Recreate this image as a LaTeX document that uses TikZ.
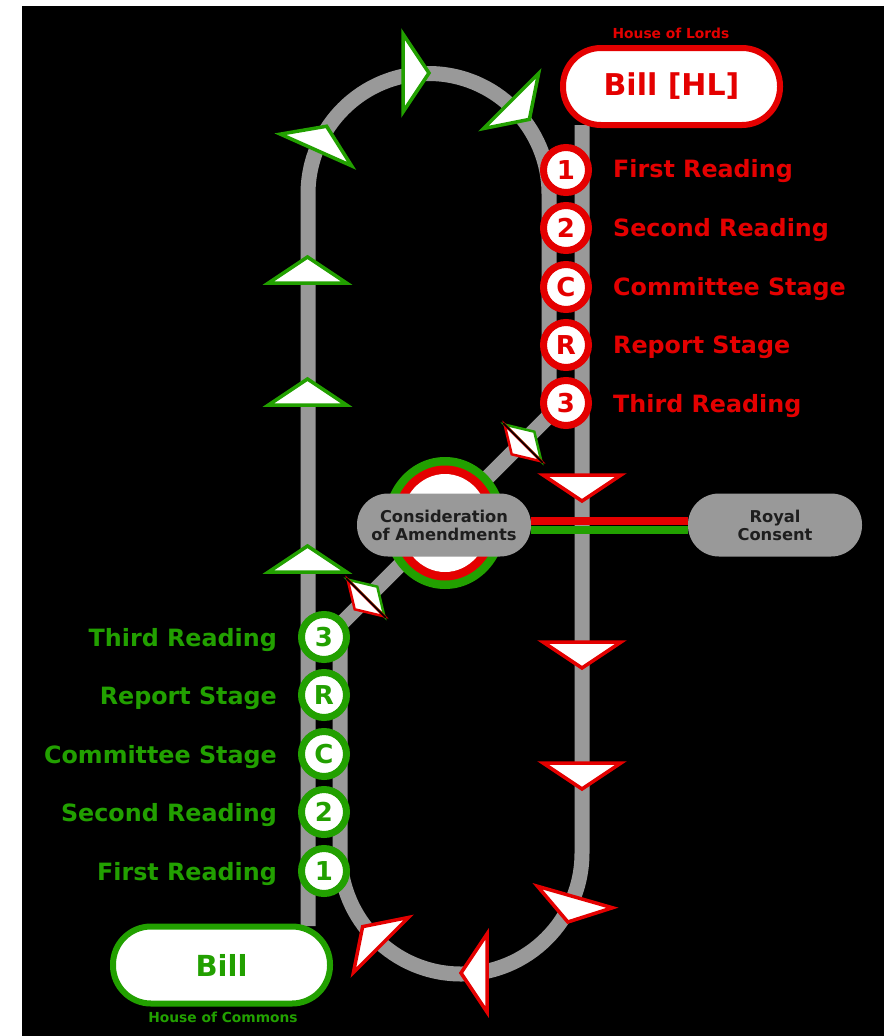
\documentclass[tikz,border=0pt]{standalone}
\usepackage{fontspec}
\setmainfont{DejaVu Sans}
\definecolor{trk}{RGB}{153,153,153}
\definecolor{rd}{RGB}{228,0,0}
\definecolor{gn}{RGB}{34,160,0}
\definecolor{tx}{RGB}{30,30,30}
\newcommand{\fs}[1]{\fontsize{#1}{#1}\selectfont}
\newcommand{\arrtri}[4]{\begin{scope}[shift={(#1,#2)},rotate=#3]\draw[arrhd,draw=#4] (0,-39) -- (26,0) -- (0,39) -- cycle;\end{scope}}
\newcommand{\splitmk}[2]{\begin{scope}[shift={(#1,#2)},rotate=45]
 \draw[arrhd,draw=gn,line width=2.5pt] (0,-26) -- (16,0) -- (0,26) -- cycle;
 \draw[arrhd,draw=rd,line width=2.5pt] (0,-26) -- (-16,0) -- (0,26) -- cycle;
 \draw[black,line width=1.5pt] (0,-28) -- (0,28);\end{scope}}
\begin{document}
\begin{tikzpicture}[x=1pt,y=-1pt,
  track/.style={draw=trk,line width=15pt,line join=round},
  arrhd/.style={fill=white,line width=3.5pt,line join=miter},
  stn/.style={circle,minimum size=45pt,inner sep=0pt,line width=7pt,fill=white,font=\bfseries\fs{26}},
  lab/.style={font=\bfseries\fs{23.8},inner sep=0pt},
  billbox/.style={line width=6pt,fill=white,rounded corners=38pt,minimum width=217pt,minimum height=77pt,inner sep=0pt},
  grybox/.style={fill=trk,rounded corners=31pt,minimum width=174pt,minimum height=63pt,inner sep=0pt,align=center,font=\bfseries\fontsize{16.3}{18}\selectfont,text=tx},
  small/.style={font=\bfseries\fs{13.8},inner sep=0pt}]
\useasboundingbox (0,0) rectangle (884,1036);
\fill[white] (0,0) rectangle (884,1036);
\fill[black] (22,6) rectangle (884,1036);
% track
\coordinate (p0) at (308,926);
\coordinate (p1) at (308,194);
\coordinate (p2) at (549,416);
\coordinate (p3) at (340,625);
\coordinate (p4) at (340,853);
\coordinate (p5) at (582,125);
\draw[track] (p0) -- (p1) arc[start angle=180,end angle=360,radius=120.5] -- (p2) -- (p3) -- (p4) arc[start angle=180,end angle=0,radius=121] -- (p5);
% consideration circle
\fill[gn] (445,523) ellipse[x radius=61,y radius=66];
\fill[rd] (445,523) ellipse[x radius=52.5,y radius=57.5];
\fill[white] (445,523) ellipse[x radius=44,y radius=49];
% boxes
\node[grybox] (cons) at (444,525) {Consideration\\of Amendments};
\node[grybox] (royal) at (775,525) {Royal\\Consent};
\coordinate (ry) at (0,521);
\coordinate (gy) at (0,530);
\draw[rd,line width=7.5pt] (cons.east |- ry) -- (royal.west |- ry);
\draw[gn,line width=8pt] (cons.east |- gy) -- (royal.west |- gy);
% bills
\node[billbox,draw=rd,text=rd,font=\bfseries\fs{30}] (billL) at (671.5,86.5) {Bill [HL]};
\node[small,text=rd] (hol) at (671,33) {House of Lords};
\node[billbox,draw=gn,text=gn,font=\bfseries\fs{29}] (billC) at (221.5,965) {Bill};
\node[small,text=gn] (hoc) at (223,1017) {House of Commons};
% arrows
\arrtri{307.5}{283}{90}{gn}
\arrtri{307.5}{405}{90}{gn}
\arrtri{307.5}{572}{90}{gn}
\arrtri{316}{150}{66}{gn}
\arrtri{403}{73}{0}{gn}
\arrtri{511}{101}{-45}{gn}
\arrtri{582}{475}{-90}{rd}
\arrtri{582}{642}{-90}{rd}
\arrtri{582}{763}{-90}{rd}
\arrtri{575}{897}{-106}{rd}
\arrtri{487}{973}{180}{rd}
\arrtri{381}{945}{135}{rd}
\splitmk{523}{443}
\splitmk{366}{598}
% lords stations
\node[stn,draw=rd,text=rd] (l1) at (566,170) {1};
\node[stn,draw=rd,text=rd] (l2) at (566,228) {2};
\node[stn,draw=rd,text=rd] (lc) at (566,287) {C};
\node[stn,draw=rd,text=rd] (lr) at (566,345) {R};
\node[stn,draw=rd,text=rd] (l3) at (566,403) {3};
\node[lab,text=rd,anchor=base west] (tl1) at (613,177) {First Reading};
\node[lab,text=rd,anchor=base west] (tl2) at (613,236) {Second Reading};
\node[lab,text=rd,anchor=base west] (tlc) at (613,295) {Committee Stage};
\node[lab,text=rd,anchor=base west] (tlr) at (613,353) {Report Stage};
\node[lab,text=rd,anchor=base west] (tl3) at (613,412) {Third Reading};
% commons stations
\node[stn,draw=gn,text=gn] (c3) at (324,637) {3};
\node[stn,draw=gn,text=gn] (cr) at (324,695) {R};
\node[stn,draw=gn,text=gn] (cc) at (324,754) {C};
\node[stn,draw=gn,text=gn] (c2) at (324,812) {2};
\node[stn,draw=gn,text=gn] (c1) at (324,871) {1};
\node[lab,text=gn,anchor=base east] (tc3) at (277,646) {Third Reading};
\node[lab,text=gn,anchor=base east] (tcr) at (277,704) {Report Stage};
\node[lab,text=gn,anchor=base east] (tcc) at (277,763) {Committee Stage};
\node[lab,text=gn,anchor=base east] (tc2) at (277,821) {Second Reading};
\node[lab,text=gn,anchor=base east] (tc1) at (277,880) {First Reading};
\end{tikzpicture}
\end{document}
